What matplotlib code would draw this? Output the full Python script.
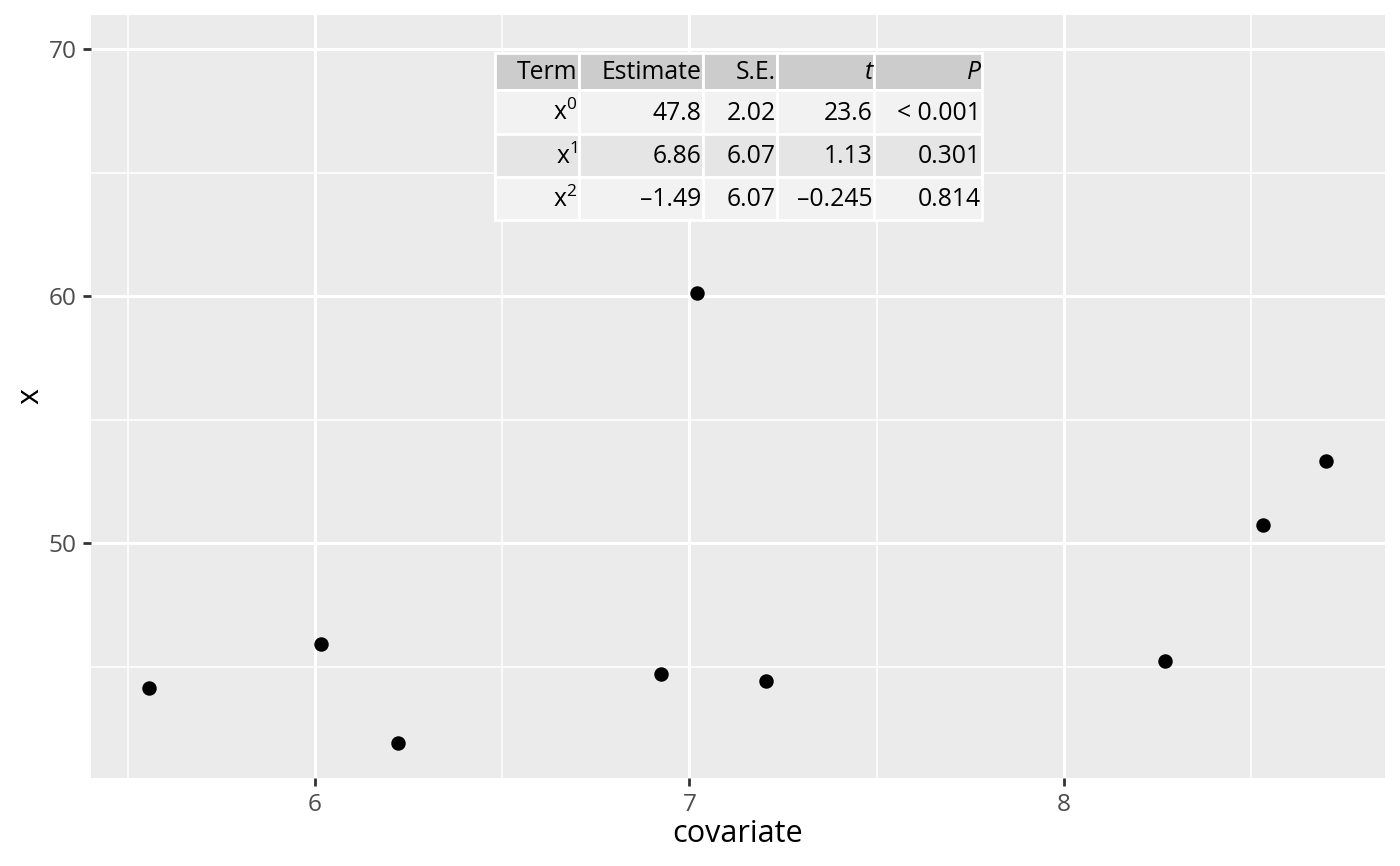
import numpy as np
import matplotlib
matplotlib.use("Agg")
import matplotlib.pyplot as plt
from matplotlib.patches import Rectangle

plt.rcParams['font.family'] = ['Open Sans', 'DejaVu Sans']
plt.rcParams['mathtext.fontset'] = 'custom'
plt.rcParams['mathtext.rm'] = 'Open Sans'
plt.rcParams['mathtext.it'] = 'Open Sans:italic'

# data
covariate = [5.557, 6.016, 6.222, 6.925, 7.021, 7.204, 8.270, 8.531, 8.700]
x_vals = [44.13, 45.91, 41.90, 44.70, 60.12, 44.41, 45.22, 50.73, 53.32]

tab_header = ['Term', 'Estimate', 'S.E.', 't', 'P']
tab_terms = [r'x$^{0}$', r'x$^{1}$', r'x$^{2}$']
tab_estimate = ['47.8', '6.86', '\u20131.49']
tab_se = ['2.02', '6.07', '6.07']
tab_t = ['23.6', '1.13', '\u20130.245']
tab_p = ['< 0.001', '0.301', '0.814']

fig = plt.figure(figsize=(7, 4.33), dpi=200)
ax = fig.add_axes([91/1400, 1 - 778/866, 1294/1400, 763/866])
ax.set_facecolor('#EBEBEB')

ax.set_xlim(5.402, 8.857)
ax.set_ylim(40.49, 71.38)
ax.set_xticks([6, 7, 8])
ax.set_yticks([50, 60, 70])
ax.set_xticks([5.5, 6.5, 7.5, 8.5], minor=True)
ax.set_yticks([45, 55, 65], minor=True)
ax.grid(which='major', color='white', linewidth=1.1)
ax.grid(which='minor', color='white', linewidth=0.55)
ax.set_axisbelow(True)
for s in ax.spines.values():
    s.set_visible(False)
ax.tick_params(which='major', length=2.75, width=1.0, color='#333333',
               labelsize=8.8, labelcolor='#4D4D4D', pad=2.5)
ax.tick_params(which='minor', length=0)

ax.plot(covariate, x_vals, 'o', color='black', markersize=4.2, zorder=3)

ax.set_xlabel('covariate', fontsize=11, labelpad=1)
ax.set_ylabel('x', fontsize=11, labelpad=1)

# table, drawn in axes fraction
col_w = [84, 124, 74, 97, 108]
row_h = [37, 44, 43, 43]
x0, y0 = 495, 53
px_w, px_h = 1294, 763
left_px, top_px = 91, 15

def fx(px):
    return (px - left_px) / px_w

def fy(py):
    return 1 - (py - top_px) / px_h

rows = [tab_header] + [[tab_terms[i], tab_estimate[i], tab_se[i], tab_t[i], tab_p[i]] for i in range(3)]
fills = ['#CCCCCC', '#F2F2F2', '#E5E5E5', '#F2F2F2']
yy = y0
for r, row in enumerate(rows):
    xx = x0
    for c, txt in enumerate(row):
        ax.add_patch(Rectangle((fx(xx), fy(yy + row_h[r])), col_w[c] / px_w, row_h[r] / px_h,
                               transform=ax.transAxes, facecolor=fills[r],
                               edgecolor='white', linewidth=1.0, zorder=4))
        style = 'italic' if (r == 0 and c >= 3) else 'normal'
        ax.text(fx(xx + col_w[c] - 1.5), fy(yy + row_h[r] / 2 + 1), txt,
                transform=ax.transAxes, ha='right', va='center',
                fontsize=8.9, fontstyle=style, color='black', zorder=5)
        xx += col_w[c]
    yy += row_h[r]

fig.savefig('out.png', dpi=200, facecolor='white')
